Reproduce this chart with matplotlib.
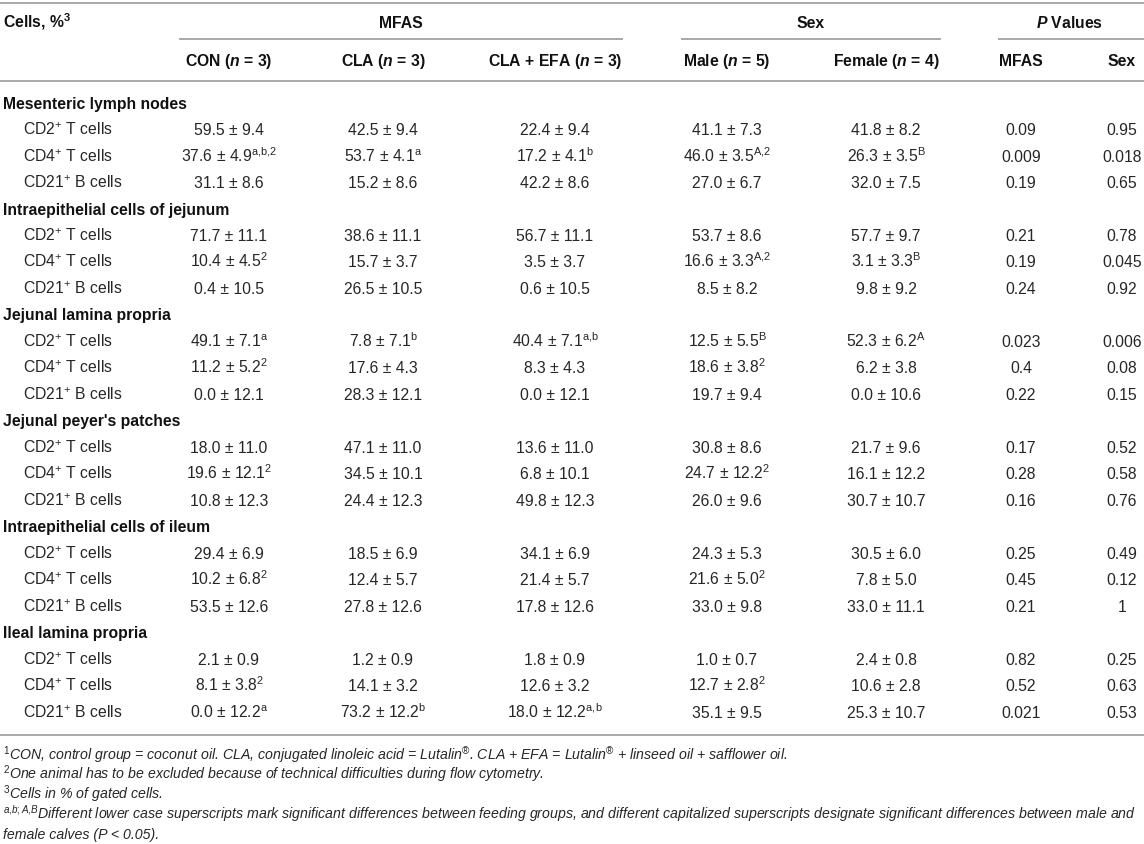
import matplotlib
matplotlib.use("Agg")
import matplotlib.pyplot as plt

# table content
sections = ["Mesenteric lymph nodes", "Intraepithelial cells of jejunum",
            "Jejunal lamina propria", "Jejunal peyer's patches",
            "Intraepithelial cells of ileum", "Ileal lamina propria"]
cell_types = [r"CD2$^{+}$ T cells", r"CD4$^{+}$ T cells", r"CD21$^{+}$ B cells"]

# mean, SE and superscript per group (18 rows = 6 sections x 3 cell types)
con_mean = [59.5, 37.6, 31.1, 71.7, 10.4, 0.4, 49.1, 11.2, 0.0, 18.0, 19.6, 10.8, 29.4, 10.2, 53.5, 2.1, 8.1, 0.0]
con_se = [9.4, 4.9, 8.6, 11.1, 4.5, 10.5, 7.1, 5.2, 12.1, 11.0, 12.1, 12.3, 6.9, 6.8, 12.6, 0.9, 3.8, 12.2]
con_sup = ["", "a,b,2", "", "", "2", "", "a", "2", "", "", "2", "", "", "2", "", "", "2", "a"]

cla_mean = [42.5, 53.7, 15.2, 38.6, 15.7, 26.5, 7.8, 17.6, 28.3, 47.1, 34.5, 24.4, 18.5, 12.4, 27.8, 1.2, 14.1, 73.2]
cla_se = [9.4, 4.1, 8.6, 11.1, 3.7, 10.5, 7.1, 4.3, 12.1, 11.0, 10.1, 12.3, 6.9, 5.7, 12.6, 0.9, 3.2, 12.2]
cla_sup = ["", "a", "", "", "", "", "b", "", "", "", "", "", "", "", "", "", "", "b"]

efa_mean = [22.4, 17.2, 42.2, 56.7, 3.5, 0.6, 40.4, 8.3, 0.0, 13.6, 6.8, 49.8, 34.1, 21.4, 17.8, 1.8, 12.6, 18.0]
efa_se = [9.4, 4.1, 8.6, 11.1, 3.7, 10.5, 7.1, 4.3, 12.1, 11.0, 10.1, 12.3, 6.9, 5.7, 12.6, 0.9, 3.2, 12.2]
efa_sup = ["", "b", "", "", "", "", "a,b", "", "", "", "", "", "", "", "", "", "", "a,b"]

male_mean = [41.1, 46.0, 27.0, 53.7, 16.6, 8.5, 12.5, 18.6, 19.7, 30.8, 24.7, 26.0, 24.3, 21.6, 33.0, 1.0, 12.7, 35.1]
male_se = [7.3, 3.5, 6.7, 8.6, 3.3, 8.2, 5.5, 3.8, 9.4, 8.6, 12.2, 9.6, 5.3, 5.0, 9.8, 0.7, 2.8, 9.5]
male_sup = ["", "A,2", "", "", "A,2", "", "B", "2", "", "", "2", "", "", "2", "", "", "2", ""]

female_mean = [41.8, 26.3, 32.0, 57.7, 3.1, 9.8, 52.3, 6.2, 0.0, 21.7, 16.1, 30.7, 30.5, 7.8, 33.0, 2.4, 10.6, 25.3]
female_se = [8.2, 3.5, 7.5, 9.7, 3.3, 9.2, 6.2, 3.8, 10.6, 9.6, 12.2, 10.7, 6.0, 5.0, 11.1, 0.8, 2.8, 10.7]
female_sup = ["", "B", "", "", "B", "", "A", "", "", "", "", "", "", "", "", "", "", ""]

p_mfas = ["0.09", "0.009", "0.19", "0.21", "0.19", "0.24", "0.023", "0.4", "0.22",
          "0.17", "0.28", "0.16", "0.25", "0.45", "0.21", "0.82", "0.52", "0.021"]
p_sex = ["0.95", "0.018", "0.65", "0.78", "0.045", "0.92", "0.006", "0.08", "0.15",
         "0.52", "0.58", "0.76", "0.49", "0.12", "1", "0.25", "0.63", "0.53"]

group_headers = [r"CON ($\mathbfit{n}$ = 3)", r"CLA ($\mathbfit{n}$ = 3)", r"CLA + EFA ($\mathbfit{n}$ = 3)",
                 r"Male ($\mathbfit{n}$ = 5)", r"Female ($\mathbfit{n}$ = 4)", "MFAS", "Sex"]

footnotes = [
    r"$^{\mathrm{1}}$CON, control group = coconut oil. CLA, conjugated linoleic acid = Lutalin$^{\mathrm{®}}$. CLA + EFA = Lutalin$^{\mathrm{®}}$ + linseed oil + safflower oil.",
    r"$^{\mathrm{2}}$One animal has to be excluded because of technical difficulties during flow cytometry.",
    r"$^{\mathrm{3}}$Cells in % of gated cells.",
    r"$^{\mathit{a{,}b;A{,}B}}$Different lower case superscripts mark significant differences between feeding groups, and different capitalized superscripts designate significant differences between male and",
    r"female calves (P < 0.05).",
]

plt.rcParams["font.family"] = ["Liberation Sans", "DejaVu Sans"]
plt.rcParams["mathtext.fontset"] = "custom"
plt.rcParams["mathtext.rm"] = "Liberation Sans"
plt.rcParams["mathtext.it"] = "Liberation Sans:italic"
plt.rcParams["mathtext.bf"] = "Liberation Sans:bold"
plt.rcParams["mathtext.bfit"] = "Liberation Sans:italic:bold"

W, H = 1144, 844
fig = plt.figure(figsize=(W / 100, H / 100), dpi=100)
ax = fig.add_axes([0, 0, 1, 1])
ax.set_xlim(0, W)
ax.set_ylim(H, 0)
ax.axis("off")

fs = 11.3
txt = "#262626"
line_c = "#a8a8a8"
lw = 1.4
half = 5.6  # centre -> baseline offset in px

col_x = [229, 383, 555, 727, 886, 1021, 1122]


def put(x, y, s, ha="center", **kw):
    ax.text(x, y + half, s, ha=ha, va="baseline", fontsize=fs, color=kw.pop("color", txt), **kw)


def cell(m, se, sup):
    s = f"{m:.1f} ± {se:.1f}"
    if sup:
        s += "$^{\\mathrm{" + sup.replace(",", "{,}") + "}}$"
    return s


# rules
ax.plot([0, W], [3, 3], color=line_c, lw=lw)
ax.plot([180, 622], [39, 39], color=line_c, lw=lw)
ax.plot([682, 940], [39, 39], color=line_c, lw=lw)
ax.plot([999, W], [39, 39], color=line_c, lw=lw)
ax.plot([0, W], [81, 81], color=line_c, lw=lw)
ax.plot([0, W], [735, 735], color=line_c, lw=lw)

# header
put(3, 22, r"Cells, %$^{\mathbf{3}}$", ha="left", fontweight="bold", color="#111111")
put(401, 22, "MFAS", fontweight="bold", color="#111111")
put(811, 22, "Sex", fontweight="bold", color="#111111")
put(1070, 22, r"$\mathbfit{P}$ Values", fontweight="bold", color="#111111")
for x, h in zip(col_x, group_headers):
    put(x, 60, h, fontweight="bold", color="#111111")

# body
y0, dy = 103, 26.48
groups = [(con_mean, con_se, con_sup), (cla_mean, cla_se, cla_sup), (efa_mean, efa_se, efa_sup),
          (male_mean, male_se, male_sup), (female_mean, female_se, female_sup)]
row = 0
for si, sec in enumerate(sections):
    put(3, y0 + row * dy, sec, ha="left", fontweight="bold", color="#111111")
    row += 1
    for ci, ct in enumerate(cell_types):
        i = si * 3 + ci
        y = y0 + row * dy
        put(23, y, ct, ha="left")
        for gi, (mm, ss, sp) in enumerate(groups):
            put(col_x[gi], y, cell(mm[i], ss[i], sp[i]))
        put(col_x[5], y, p_mfas[i])
        put(col_x[6], y, p_sex[i])
        row += 1

# footnotes
foot_y = [755, 774, 794.5, 814, 834]
ftexts = []
for y, s in zip(foot_y, footnotes):
    t = ax.text(3, y + 4.9, s, ha="left", va="baseline", fontsize=9.9, style="italic", color=txt)
    ftexts.append(t)

fig.canvas.draw()
r = fig.canvas.get_renderer()
bb = ftexts[3].get_window_extent(r)
scale = (1141 - 3) / bb.width
for t in ftexts:
    t.set_fontsize(9.9 * scale)

fig.savefig("out.png", dpi=100)
